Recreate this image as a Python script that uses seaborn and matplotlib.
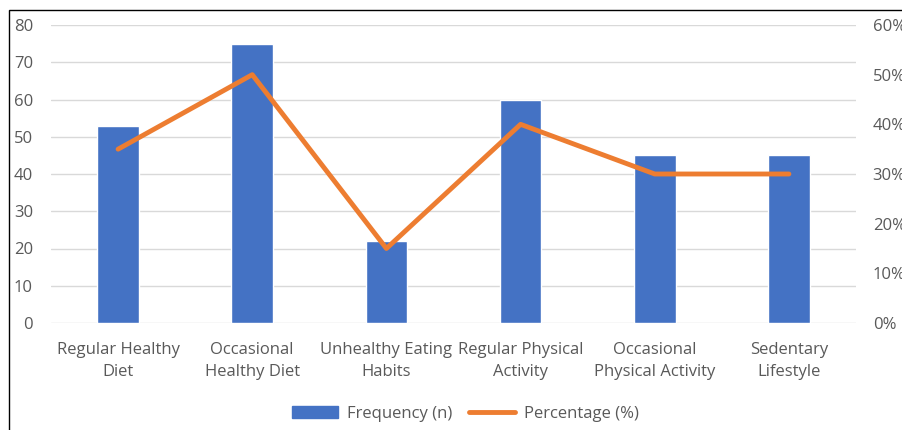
import matplotlib
matplotlib.use("Agg")
import matplotlib.pyplot as plt
import seaborn as sns
import numpy as np
import pandas as pd
from matplotlib.patches import Patch, Rectangle
from matplotlib.lines import Line2D
from matplotlib.ticker import FuncFormatter

categories = ["Regular Healthy\nDiet", "Occasional\nHealthy Diet", "Unhealthy Eating\nHabits",
              "Regular Physical\nActivity", "Occasional\nPhysical Activity", "Sedentary\nLifestyle"]
frequency = [53, 75, 22, 60, 45, 45]
percentage = [35, 50, 15, 40, 30, 30]
left_ticks = [0, 10, 20, 30, 40, 50, 60, 70, 80]
right_ticks = [0, 10, 20, 30, 40, 50, 60]

sns.set_style("white")
plt.rcParams['font.family'] = ['Open Sans', 'DejaVu Sans']

BLUE = "#4472C4"
ORANGE = "#ED7D31"
TXT = "#595959"
FS = 12

fig = plt.figure(figsize=(9.03, 4.30), dpi=100)
ax = fig.add_axes([51/903, 1-323/430, (856-51)/903, (323-25)/430])

df = pd.DataFrame({"cat": categories, "freq": frequency, "pct": percentage})
sns.barplot(data=df, x="cat", y="freq", color=BLUE, width=0.31, ax=ax, saturation=1)
ax.set_ylim(0, 80)
ax.set_yticks(left_ticks)
ax.set_xlim(-0.5, 5.5)
ax.yaxis.grid(True, color="#D9D9D9", linewidth=1)
ax.set_axisbelow(True)
for s in ax.spines.values():
    s.set_visible(False)
ax.set_xlabel("")
ax.set_ylabel("")
ax.tick_params(axis="y", length=0, pad=13, labelsize=FS, labelcolor=TXT)
ax.tick_params(axis="x", length=0, pad=14, labelsize=FS, labelcolor=TXT)
for lbl in ax.get_xticklabels():
    lbl.set_linespacing(1.45)

ax2 = ax.twinx()
sns.lineplot(data=df, x="cat", y="pct", color=ORANGE, linewidth=3.5, sort=False, ax=ax2)
ax2.set_ylim(0, 60)
ax2.set_yticks(right_ticks)
ax2.yaxis.set_major_formatter(FuncFormatter(lambda v, p: f"{int(v)}%"))
for s in ax2.spines.values():
    s.set_visible(False)
ax2.set_ylabel("")
ax2.tick_params(axis="y", length=0, pad=12, labelsize=FS, labelcolor=TXT)

handles = [Patch(facecolor=BLUE, edgecolor=BLUE), Line2D([0], [0], color=ORANGE, linewidth=3.5)]
fig.legend(handles, ["Frequency (n)", "Percentage (%)"], loc="center", bbox_to_anchor=(465/903, 1-414/430),
           ncol=2, frameon=False, fontsize=FS, labelcolor=TXT, handlelength=2.8,
           handletextpad=0.5, columnspacing=1.0)

fig.patches.append(Rectangle((9/903, -0.1), 1.2, 1-10/430+0.1, transform=fig.transFigure,
                             fill=False, edgecolor="black", linewidth=1))

fig.savefig("out.png", dpi=100)
